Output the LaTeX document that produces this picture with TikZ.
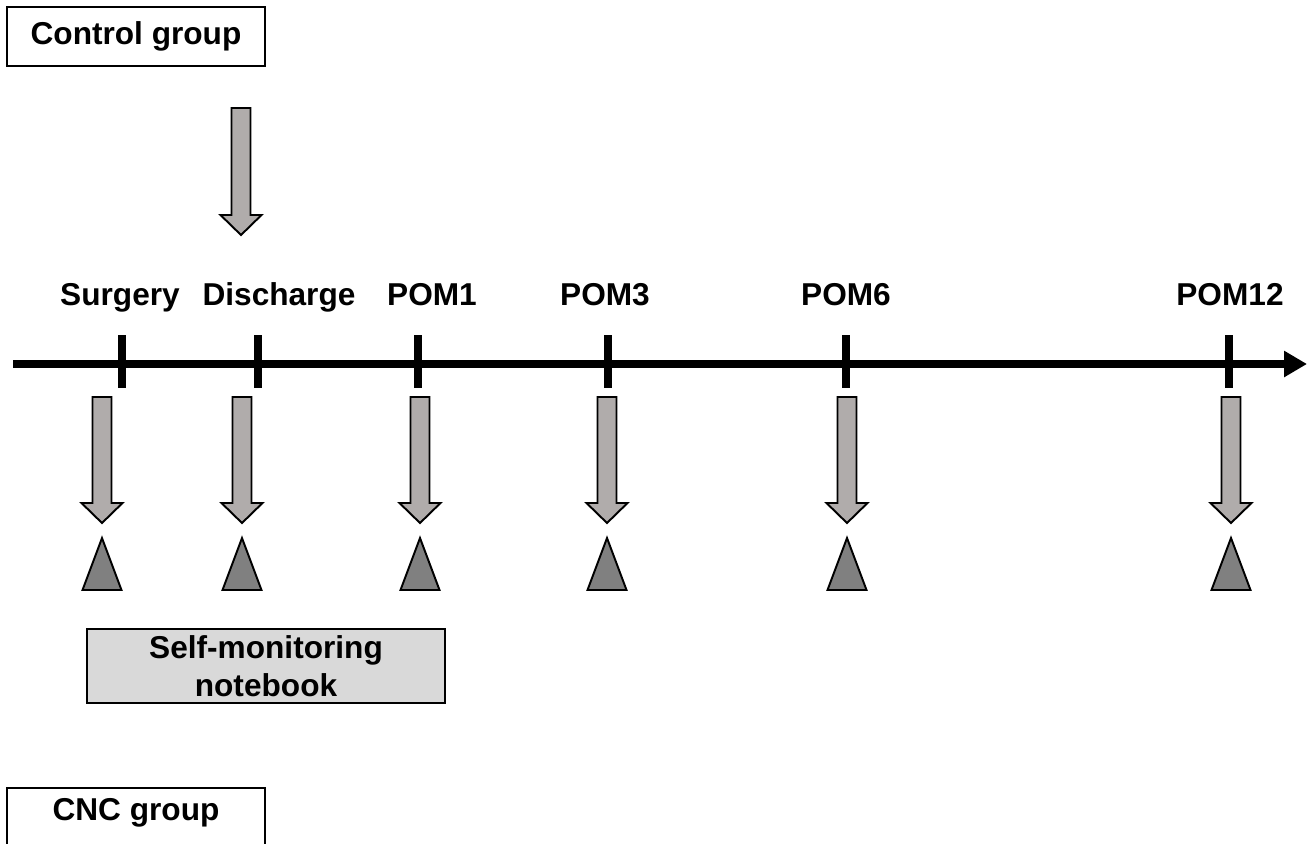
\documentclass[tikz,border=0pt]{standalone}
\usepackage{fontspec}
\setmainfont{Liberation Sans}
\usetikzlibrary{arrows.meta}

\definecolor{arrowgray}{RGB}{176,172,171}
\definecolor{markgray}{RGB}{128,128,128}
\definecolor{boxgray}{RGB}{217,217,217}

\tikzset{
  label/.style={font=\fontsize{18}{21.5}\selectfont\bfseries, inner sep=0pt},
  groupbox/.style={draw, line width=0.9pt, minimum width=5.16cm, minimum height=1.18cm},
  notebox/.style={draw, line width=1.6pt, fill=boxgray, align=center,
                  minimum width=7.16cm, minimum height=1.48cm},
  blockarrow/.style={draw, line width=1.1pt, fill=arrowgray, line join=miter},
  marker/.style={draw, line width=1.1pt, fill=markgray, line join=miter},
  tick/.style={line width=4pt},
  axis/.style={line width=4.5pt, -{Triangle[length=0.46cm,width=0.5cm]}}
}

\begin{document}
\begin{tikzpicture}[x=0.02cm, y=-0.02cm]
    \clip (0,0) rectangle (1316,843);

    % group boxes
    \node [groupbox, label] (control) at (136,36.5) {Control group};
    \draw [line width=0.9pt] (7,788) rectangle (265,880);
    \node [label] (cnc) at (136,813) {CNC group};

    % arrow from the control group at discharge
    \draw [blockarrow] (231.5,108) -- (250.5,108) -- (250.5,215) -- (261.5,215)
        -- (241,235) -- (220.5,215) -- (231.5,215) -- cycle;

    % the time axis
    \coordinate (start) at (13,364);
    \coordinate (end) at (1307,364);
    \draw [axis] (start) -- (end);

    % ticks and their labels
    \foreach \x/\n/\lx/\txt in {122/surgery/120/Surgery, 258/discharge/279/Discharge,
        418/pom1/432/POM1, 608/pom3/605/POM3, 846/pom6/846/POM6, 1229/pom12/1230/POM12} {
      \draw [tick] (\x,335) -- (\x,388);
      \node [label, anchor=base] (\n) at (\lx,305) {\txt};
    }

    % arrows and triangles below the axis
    \foreach \x in {102,242,420,607,847,1231} {
      \draw [blockarrow] (\x-9.5,397) -- (\x+9.5,397) -- (\x+9.5,503) -- (\x+20.5,503)
          -- (\x,523) -- (\x-20.5,503) -- (\x-9.5,503) -- cycle;
      \draw [marker] (\x,538) -- (\x+19.5,590) -- (\x-19.5,590) -- cycle;
    }

    % notebook
    \node [notebox, label] (notebook) at (266,666) {Self-monitoring\\notebook};
\end{tikzpicture}
\end{document}
